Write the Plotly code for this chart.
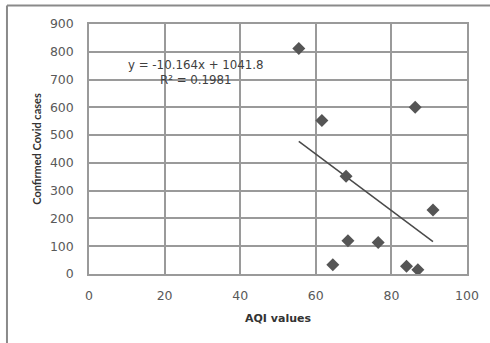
import plotly.graph_objects as go

# AQI vs confirmed Covid cases
aqi_values = [55.5, 86.3, 61.6, 68.0, 91.0, 68.5, 76.5, 64.5, 84.0, 87.0]
confirmed_cases = [812, 600, 553, 352, 230, 120, 113, 33, 28, 15]

# Linear trendline coefficients
slope = -10.164
intercept = 1041.8
r_squared = 0.1981

x_ticks = [0, 20, 40, 60, 80, 100]
y_ticks = [0, 100, 200, 300, 400, 500, 600, 700, 800, 900]

x_min, x_max = min(aqi_values), max(aqi_values)
trend_x = [x_min, x_max]
trend_y = [slope * v + intercept for v in trend_x]

fig = go.Figure()
fig.add_trace(go.Scatter(
    x=trend_x, y=trend_y, mode="lines",
    line=dict(color="#4a4a4a", width=1.5),
    showlegend=False, hoverinfo="skip",
))
fig.add_trace(go.Scatter(
    x=aqi_values, y=confirmed_cases, mode="markers",
    marker=dict(symbol="diamond", size=10, color="#555555"),
    showlegend=False,
))

wide_font = "'DejaVu Sans', sans-serif"
narrow_font = "Lato, 'Liberation Sans', sans-serif"

fig.update_layout(
    width=490, height=343,
    margin=dict(l=89, r=23, t=24, b=69),
    paper_bgcolor="white", plot_bgcolor="white",
    font=dict(family=wide_font, color="#555555", size=12),
    xaxis=dict(
        range=[0, 100], tickvals=x_ticks, ticktext=[str(v) for v in x_ticks],
        showgrid=True, gridcolor="#9a9a9a", gridwidth=1.5,
        showline=True, linecolor="#9a9a9a", linewidth=1.5, mirror=True,
        zeroline=False, ticks="outside", ticklen=9, tickcolor="white",
        tickfont=dict(family=wide_font, size=12.5, color="#595959"),
        title=dict(text="<b>AQI values</b>",
                   font=dict(family=wide_font, size=11, color="#333333"), standoff=13),
    ),
    yaxis=dict(
        range=[0, 900], tickvals=y_ticks, ticktext=[str(v) for v in y_ticks],
        showgrid=True, gridcolor="#9a9a9a", gridwidth=1.5,
        showline=True, linecolor="#9a9a9a", linewidth=1.5, mirror=True,
        zeroline=False, ticks="outside", ticklen=11, tickcolor="white",
        tickfont=dict(family=wide_font, size=12.5, color="#595959"),
        title=dict(text="<b>Confirmed Covid cases</b>",
                   font=dict(family=narrow_font, size=11, color="#333333"), standoff=6),
    ),
    annotations=[
        dict(
            text=f"y = {slope}x + {intercept}<br>R² = {r_squared}",
            x=0.283, y=0.805, xref="paper", yref="paper",
            xanchor="center", yanchor="middle", showarrow=False,
            font=dict(family=wide_font, size=11.8, color="#404040"), align="center",
        ),
    ],
    shapes=[
        # chart-area frame (top and left edges)
        dict(type="line", xref="paper", yref="paper",
             x0=-0.217, x1=1.1, y0=1.074, y1=1.074,
             line=dict(color="#8a8a8a", width=2)),
        dict(type="line", xref="paper", yref="paper",
             x0=-0.217, x1=-0.217, y0=1.074, y1=-0.3,
             line=dict(color="#8a8a8a", width=2)),
    ],
)

fig.write_html("out.html")
